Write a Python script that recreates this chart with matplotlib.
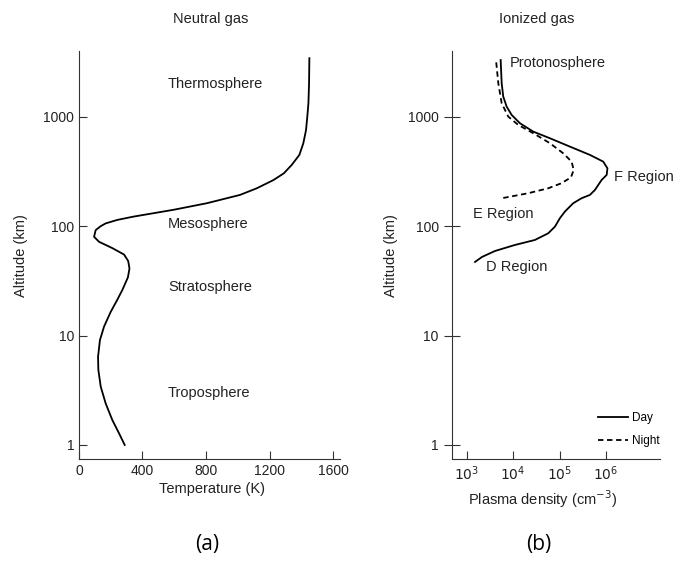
import matplotlib
matplotlib.use("Agg")
import matplotlib.pyplot as plt
from matplotlib.ticker import FixedLocator, NullLocator, FixedFormatter

plt.rcParams['font.family'] = ['Liberation Sans', 'DejaVu Sans']

# neutral gas temperature profile
temp_K = [288, 252, 210, 168, 137, 122, 120, 132, 158, 200, 241, 273, 308,
          318, 310, 284, 210, 126, 95, 105, 137, 168, 241, 340, 594, 805,
          1014, 1120, 1225, 1290, 1340, 1388, 1413, 1430, 1438, 1445, 1449,
          1451]
temp_alt = [1.0, 1.28, 1.69, 2.40, 3.41, 4.85, 6.4, 9.1, 12.1, 16.5, 21.2,
            26.1, 34, 41, 48, 55, 63, 72, 80, 92, 100, 106, 114, 122, 141,
            162, 193, 222, 264, 304, 363, 448, 573, 757, 1002, 1330, 2025,
            3430]

# ionized gas plasma density, day and night
day_n = [1.51e3, 2.13e3, 4.06e3, 1.09e4, 2.94e4, 5.69e4, 7.92e4, 1.01e5,
         1.30e5, 1.96e5, 2.97e5, 4.49e5, 5.74e5, 8.0e5, 1.03e6, 1.07e6,
         8.67e5, 4.49e5, 1.67e5, 6.18e4, 2.71e4, 1.40e4, 9.29e3, 7.25e3,
         6.12e3, 5.66e3, 5.38e3]
day_alt = [47.1, 52.3, 59.3, 67.3, 74.8, 86.1, 98.9, 118, 136, 162, 180,
           193, 214, 264, 294, 338, 389, 448, 533, 636, 731, 872, 1038, 1237,
           1528, 2025, 3300]
night_n = [6.12e3, 2.11e4, 5.69e4, 1.10e5, 1.75e5, 2.01e5, 1.81e5, 1.19e5,
           6.18e4, 2.71e4, 1.29e4, 7.85e3, 5.66e3, 4.79e3, 4.27e3]
night_alt = [181, 200, 222, 247, 279, 326, 389, 464, 573, 707, 841, 1002,
             1328, 2025, 3300]

alt_ticks = [1, 10, 100, 1000]
alt_labels = ['1', '10', '100', '1000']
temp_ticks = [0, 400, 800, 1200, 1600]
dens_ticks = [1e3, 1e4, 1e5, 1e6]
dens_labels = ['$10^3$', '$10^4$', '$10^5$', '$10^6$']

txt = '#222222'
fig = plt.figure(figsize=(6.78, 5.61), dpi=100)
ax1 = fig.add_axes([0.1165, 0.1813, 0.385, 0.7278])
ax2 = fig.add_axes([0.6667, 0.1813, 0.3068, 0.7278])

for ax in (ax1, ax2):
    ax.spines['top'].set_visible(False)
    ax.spines['right'].set_visible(False)
    ax.spines['left'].set_color('#333333')
    ax.spines['bottom'].set_color('#333333')
    ax.set_yscale('log')
    ax.set_ylim(0.74, 3990)
    ax.yaxis.set_major_locator(FixedLocator(alt_ticks))
    ax.yaxis.set_major_formatter(FixedFormatter(alt_labels))
    ax.yaxis.set_minor_locator(NullLocator())
    ax.tick_params(labelsize=10, colors='#333333', labelcolor=txt, length=6)
    ax.set_ylabel('Altitude (km)', fontsize=10.5, color=txt)
    ax.yaxis.set_label_coords(-0.195 if ax is ax1 else -0.26, 0.5)

# (a) neutral gas
ax1.plot(temp_K, temp_alt, color='black', lw=1.3)
ax1.set_xlim(0, 1644)
ax1.set_xticks(temp_ticks)
ax1.tick_params(axis='both', direction='in')
ax1.set_xlabel('Temperature (K)', fontsize=10.5, color=txt)
ax1.xaxis.set_label_coords(0.51, -0.055)
for name, yy in [('Thermosphere', 0.919), ('Mesosphere', 0.576),
                 ('Stratosphere', 0.422), ('Troposphere', 0.163)]:
    ax1.text(0.341, yy, name, transform=ax1.transAxes, fontsize=10.5,
             color=txt, va='center', ha='left')

# (b) ionized gas
ax2.plot(day_n, day_alt, color='black', lw=1.3, label='Day')
ax2.plot(night_n, night_alt, color='black', lw=1.3, ls=(0, (3, 2)), label='Night')
ax2.set_xscale('log')
ax2.set_xlim(483, 1.45e7)
ax2.xaxis.set_major_locator(FixedLocator(dens_ticks))
ax2.xaxis.set_major_formatter(FixedFormatter(dens_labels))
ax2.xaxis.set_minor_locator(NullLocator())
ax2.tick_params(axis='x', direction='in')
ax2.tick_params(axis='y', direction='inout', length=12)
ax2.set_xlabel('Plasma density (cm$^{-3}$)', fontsize=10.5, color=txt)
ax2.xaxis.set_label_coords(0.4375, -0.07)
for name, xx, yy in [('Protonosphere', 0.279, 0.9706), ('F Region', 0.779, 0.691),
                     ('E Region', 0.101, 0.601), ('D Region', 0.163, 0.471)]:
    ax2.text(xx, yy, name, transform=ax2.transAxes, fontsize=10.5,
             color=txt, va='center', ha='left')
ax2.legend(loc='lower right', bbox_to_anchor=(1.0, 0.03), frameon=False,
           fontsize=8.5, handlelength=2.55, handletextpad=0.4, labelspacing=0.95,
           borderpad=0, borderaxespad=0)

fig.text(0.311, 0.966, 'Neutral gas', ha='center', va='center', fontsize=10.5, color=txt)
fig.text(0.792, 0.966, 'Ionized gas', ha='center', va='center', fontsize=10.5, color=txt)
fig.text(0.305, 0.03, '(a)', ha='center', va='center', fontsize=15,
         family=['Open Sans', 'DejaVu Sans'], color='black')
fig.text(0.794, 0.03, '(b)', ha='center', va='center', fontsize=15,
         family=['Open Sans', 'DejaVu Sans'], color='black')

fig.savefig('out.png', dpi=100)
